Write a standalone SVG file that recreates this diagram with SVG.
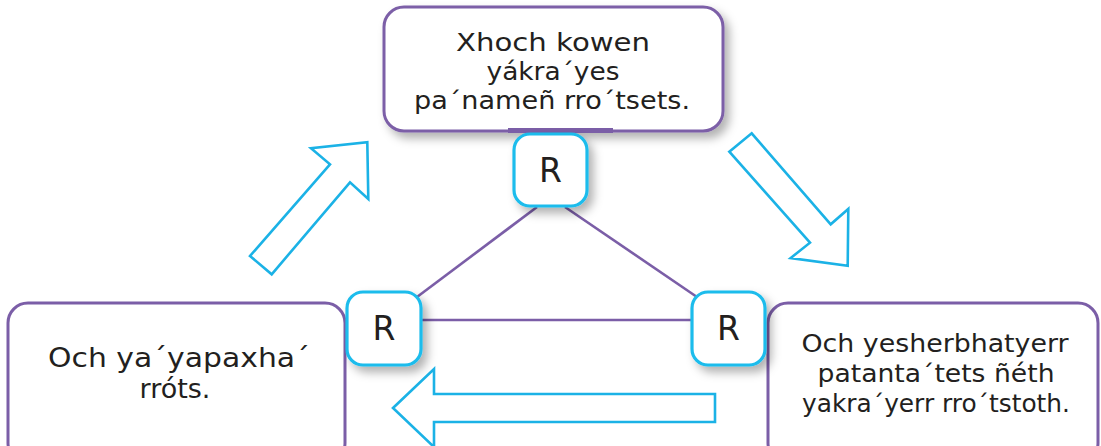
<svg xmlns="http://www.w3.org/2000/svg" width="1101" height="446" viewBox="0 0 1101 446">
<defs>
<filter id="sh" x="-20%" y="-20%" width="150%" height="150%">
<feDropShadow dx="5" dy="6" stdDeviation="5" flood-color="#000" flood-opacity="0.3"/>
</filter>
<style>
.box{fill:#fff;stroke:#7b5ea7;stroke-width:3}
.rbox{fill:#fff;stroke:#1cbcec;stroke-width:3.2}
.arr{fill:#fff;stroke:#1bb2e6;stroke-width:2.6;stroke-linejoin:miter}
.ln{stroke:#7b5ea7;stroke-width:2.6;fill:none}
.t{font-family:"DejaVu Sans","Liberation Sans",sans-serif;fill:#231f20;text-anchor:middle;font-size:24px}
.tl{font-size:27px}
.r{font-family:"DejaVu Sans","Liberation Sans",sans-serif;fill:#231f20;text-anchor:middle;font-size:33px;font-weight:normal}
</style>
</defs>
<rect width="1101" height="446" fill="#fff"/>
<g id="arrows">
<polygon class="arr" points="250,256 271.7,274.3 350,182.3 368.3,199 367.3,142.3 311,148.3 330,164.3"/>
<polygon class="arr" points="729.3,151.7 751.7,133.3 830.7,224.3 848.3,209 847.7,265.7 790.7,258 810,242.7"/>
<polygon class="arr" points="393,408 434,369 434,394 715,394 715,422 434,422 434,447"/>
</g>
<g id="connectors">
<line class="ln" x1="537" y1="207" x2="417" y2="297"/>
<line class="ln" x1="565" y1="207" x2="697" y2="297"/>
<line class="ln" x1="421" y1="320" x2="692" y2="320"/>
</g>
<g id="top">
<rect class="box" x="384" y="7" width="339" height="124" rx="20" filter="url(#sh)"/>
<rect x="508" y="128" width="105" height="5" fill="#7b5ea7"/>
<text class="t" x="553" y="51" textLength="194" lengthAdjust="spacingAndGlyphs">Xhoch kowen</text>
<text class="t" x="553" y="80" textLength="133" lengthAdjust="spacingAndGlyphs">yákra´yes</text>
<text class="t" x="552" y="109" textLength="276" lengthAdjust="spacingAndGlyphs">pa´nameñ rro´tsets.</text>
</g>
<g id="left">
<rect class="box" x="8" y="303" width="337" height="160" rx="20"/>
<text class="t tl" x="179" y="367" textLength="262" lengthAdjust="spacingAndGlyphs">Och ya´yapaxha´</text>
<text class="t tl" x="175" y="398">rróts.</text>
</g>
<g id="right">
<rect class="box" x="768" y="303" width="330" height="160" rx="20"/>
<text class="t" x="935" y="352" textLength="267" lengthAdjust="spacingAndGlyphs">Och yesherbhatyerr</text>
<text class="t" x="936" y="382" textLength="237" lengthAdjust="spacingAndGlyphs">patanta´tets ñéth</text>
<text class="t" x="936" y="412" textLength="268" lengthAdjust="spacingAndGlyphs">yakra´yerr rro´tstoth.</text>
</g>
<g id="r-top">
<rect class="rbox" x="514" y="134" width="73" height="72" rx="16" filter="url(#sh)"/>
<text class="r" x="550.5" y="182">R</text>
</g>
<g id="r-left">
<rect class="rbox" x="347" y="292" width="74" height="73" rx="16" filter="url(#sh)"/>
<text class="r" x="384" y="340">R</text>
</g>
<g id="r-right">
<rect class="rbox" x="692" y="292" width="73" height="73" rx="16" filter="url(#sh)"/>
<text class="r" x="728.5" y="340">R</text>
</g>
</svg>
